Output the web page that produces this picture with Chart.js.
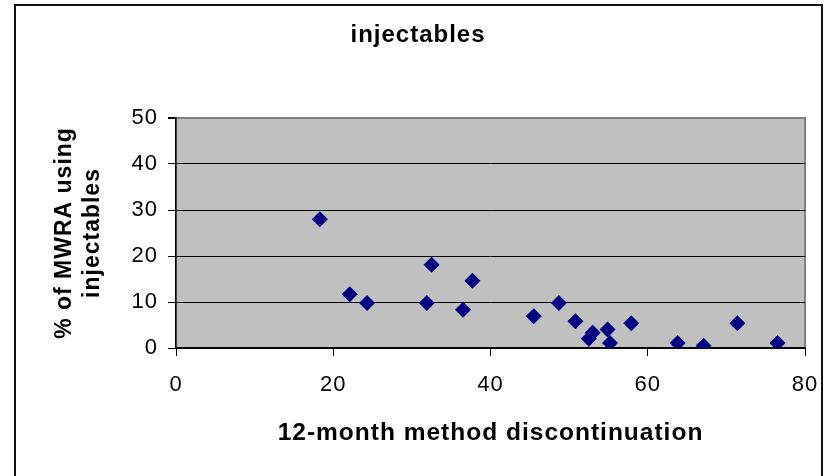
<!DOCTYPE html>
<html>
<head>
<meta charset="utf-8">
<script src="https://cdn.jsdelivr.net/npm/chart.js@4/dist/chart.umd.min.js"></script>
<style>
  body { margin: 0; background: #fff; }
  canvas { display: block; }
</style>
</head>
<body>
<canvas id="scatter" width="827" height="476"></canvas>
<script>
const chartTitle = 'injectables';
const xTitle = '12-month method discontinuation';
const yTitle = ['% of MWRA using', 'injectables'];
const xTicks = [0, 20, 40, 60, 80];
const yTicks = [0, 10, 20, 30, 40, 50];
const discontinuation = [18.3, 22.1, 24.3, 32.5, 31.9, 37.7, 36.5, 45.5, 48.7, 50.8, 53.0, 52.5, 54.9, 55.2, 57.9, 63.8, 67.1, 71.4, 76.5];
const usingInjectables = [28.0, 11.7, 9.8, 18.1, 9.8, 14.6, 8.3, 6.9, 9.8, 5.8, 3.3, 2.0, 4.0, 1.1, 5.4, 1.1, 0.5, 5.4, 1.1];

const fam = "'Liberation Sans', Arial, sans-serif";

// excel style frame, grey plot area, slightly wider letters
const excelLook = {
  id: 'excelLook',
  beforeUpdate(chart) {
    chart.ctx.letterSpacing = '1px';
  },
  beforeDraw(chart) {
    const ctx = chart.ctx;
    const a = chart.chartArea;
    ctx.letterSpacing = '1px';
    ctx.save();
    ctx.fillStyle = '#fff';
    ctx.fillRect(0, 0, chart.width, chart.height);
    ctx.strokeStyle = '#111';
    ctx.lineWidth = 2;
    ctx.strokeRect(15, 5, 807, 490);
    ctx.fillStyle = '#c0c0c0';
    ctx.fillRect(a.left, a.top, a.right - a.left, a.bottom - a.top);
    ctx.strokeStyle = '#808080';
    ctx.lineWidth = 2;
    ctx.strokeRect(a.left, a.top, a.right - a.left, a.bottom - a.top);
    ctx.restore();
  }
};

// no label overhang, the frame sizes are fixed
function noOverhang(s) {
  s.paddingLeft = 0;
  s.paddingRight = 0;
  s.paddingTop = 0;
  s.paddingBottom = 0;
}

const points = discontinuation.map((x, i) => ({ x: x, y: usingInjectables[i] }));

new Chart(document.getElementById('scatter'), {
  type: 'scatter',
  data: {
    datasets: [{
      label: chartTitle,
      data: points,
      pointStyle: 'rectRot',
      pointRadius: 8,
      pointHoverRadius: 8,
      backgroundColor: '#000080',
      borderColor: '#000080',
      borderWidth: 0
    }]
  },
  options: {
    responsive: false,
    animation: false,
    layout: { padding: { left: 15, right: 6, top: 0, bottom: 0 } },
    plugins: {
      legend: { display: false },
      tooltip: { enabled: false },
      title: {
        display: true,
        text: chartTitle,
        color: '#000',
        font: { family: fam, size: 24, weight: 'bold' },
        padding: { top: 20.6, bottom: 68.6 }
      }
    },
    scales: {
      x: {
        type: 'linear',
        min: xTicks[0],
        max: xTicks[xTicks.length - 1],
        afterBuildTicks: (s) => { s.ticks = xTicks.map(v => ({ value: v })); },
        afterFit: (s) => { s.height = 128; noOverhang(s); },
        ticks: { color: '#000', font: { family: fam, size: 22 }, padding: 16 },
        grid: { drawOnChartArea: false, drawTicks: true, tickLength: 8, tickColor: '#000' },
        border: { color: '#000', width: 1.5 },
        title: {
          display: true,
          text: xTitle,
          color: '#000',
          font: { family: fam, size: 24.5, weight: 'bold' },
          padding: { top: 0, bottom: 28 }
        }
      },
      y: {
        type: 'linear',
        min: yTicks[0],
        max: yTicks[yTicks.length - 1],
        afterBuildTicks: (s) => { s.ticks = yTicks.map(v => ({ value: v })); },
        afterFit: (s) => { s.width = 161; noOverhang(s); },
        ticks: { color: '#000', font: { family: fam, size: 22 }, padding: 10 },
        grid: {
          color: (c) => c.tick && c.tick.value === 50 ? '#808080' : '#000',
          lineWidth: (c) => c.tick && c.tick.value === 50 ? 2 : 1,
          tickLength: 8,
          tickColor: '#000'
        },
        border: { color: '#000', width: 1.5 },
        title: {
          display: true,
          text: yTitle,
          color: '#000',
          font: { family: fam, size: 23, weight: 'bold', lineHeight: 1.25 },
          padding: { top: 35, bottom: 0 }
        }
      },
      y2: {
        type: 'linear',
        position: 'right',
        display: true,
        afterFit: (s) => { s.width = 16; noOverhang(s); },
        ticks: { display: false },
        grid: { display: false, drawTicks: false },
        border: { display: false }
      }
    }
  },
  plugins: [excelLook]
});
</script>
</body>
</html>
